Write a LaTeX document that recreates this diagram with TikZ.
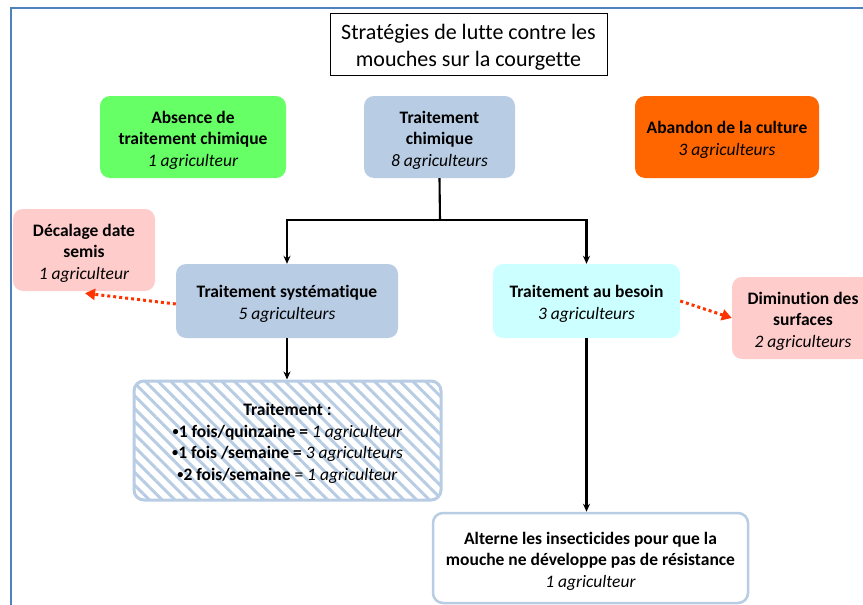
\documentclass[tikz,border=0pt]{standalone}
\usepackage{fontspec}
\setmainfont{Carlito}[Ligatures=NoCommon]
\usetikzlibrary{patterns.meta,arrows.meta}
\definecolor{bluebox}{HTML}{B8CCE4}
\definecolor{greenbox}{HTML}{66FF66}
\definecolor{orangebox}{HTML}{FF6600}
\definecolor{pinkbox}{HTML}{FFCCCC}
\definecolor{cyanbox}{HTML}{CCFFFF}
\definecolor{framecol}{HTML}{4F81BD}
\definecolor{dotred}{HTML}{FF3300}
\newcommand{\lowstrut}{\rule{0pt}{18pt}}
\newcommand{\smbullet}{\raisebox{1.8pt}{\scalebox{0.7}{•}}}
\tikzset{
  box/.style={rounded corners=10pt, draw=none, align=center, inner sep=0pt,
    font=\fontsize{17.5}{21.5}\selectfont},
  conn/.style={line width=2.1pt, -{Stealth[length=8pt,width=7pt]}},
  dotarrow/.style={dotred, line width=3pt, dash pattern=on 3pt off 3pt,
    -{Triangle[length=10pt,width=11pt]}}
}
\begin{document}
\begin{tikzpicture}[x=1pt,y=-1pt]
\useasboundingbox (0,0) rectangle (863,605);
\draw[framecol, line width=2.5pt] (11,606) -- (11,8) -- (864,8);

\node[draw=black, line width=0.8pt, minimum width=277pt, minimum height=62pt, align=center,
  inner sep=0pt, font=\fontsize{22}{26.5}\selectfont] (title) at (468.5,44)
  {\rule{0pt}{22pt}Stratégies de lutte contre les\\mouches sur la courgette};

\node[box, fill=greenbox, minimum width=186pt, minimum height=82pt] (abs) at (193,137)
  {\lowstrut\textbf{Absence de}\\\textbf{traitement chimique}\\\textit{1 agriculteur}};
\node[box, fill=bluebox, minimum width=151pt, minimum height=82pt] (chim) at (439.5,137)
  {\lowstrut\textbf{Traitement}\\\textbf{chimique}\\\textit{8 agriculteurs}};
\node[box, fill=orangebox, minimum width=184pt, minimum height=82pt] (aban) at (727,137)
  {\lowstrut\textbf{Abandon de la culture}\\\textit{3 agriculteurs}};
\node[box, fill=pinkbox, minimum width=142pt, minimum height=82pt] (dec) at (84,250)
  {\lowstrut\textbf{Décalage date}\\\textbf{semis}\\\textit{1 agriculteur}};
\node[box, fill=bluebox, minimum width=222pt, minimum height=74pt] (sys) at (287,301)
  {\lowstrut\textbf{Traitement systématique}\\\textit{5 agriculteurs}};
\node[box, fill=cyanbox, minimum width=187pt, minimum height=74pt] (bes) at (586.5,301)
  {\lowstrut\textbf{Traitement au besoin}\\\textit{3 agriculteurs}};
\node[box, fill=pinkbox, minimum width=142pt, minimum height=82pt] (dim) at (803,318)
  {\lowstrut\textbf{Diminution des}\\\textbf{surfaces}\\\textit{2 agriculteurs}};
\node[box, draw=bluebox, line width=3pt, minimum width=307pt, minimum height=119pt,
  pattern={Lines[angle=-45,distance=9pt,line width=3pt]}, pattern color=bluebox] (hat) at (287.5,440.5)
  {\lowstrut\textbf{Traitement :}\\\textbf{\smbullet1 fois/quinzaine =} \textit{1 agriculteur}\\
   \textbf{\smbullet1 fois /semaine =} \textit{3 agriculteurs}\\
   \textbf{\smbullet2 fois/semaine} = \textit{1 agriculteur}};
\node[box, draw=bluebox, line width=2.5pt, fill=white, minimum width=315pt, minimum height=90pt] (alt) at (590.5,558)
  {\lowstrut\textbf{Alterne les insecticides pour que la}\\\textbf{mouche ne développe pas de résistance}\\\textit{1 agriculteur}};

\coordinate (j) at (440,220);
\draw[line width=2.1pt] (chim.south) -- (j);
\draw[conn] (j) -| (sys.north);
\draw[conn] (j) -| (bes.north);
\draw[conn] (sys.south) -- (sys.south |- hat.north);
\draw[conn] (bes.south) -- (bes.south |- alt.north);
\draw[dotarrow] ([yshift=-3pt]sys.west) -- ([xshift=1pt,yshift=-2pt]dec.south);
\draw[dotarrow] (bes.east) -- (dim.west);
\end{tikzpicture}
\end{document}
